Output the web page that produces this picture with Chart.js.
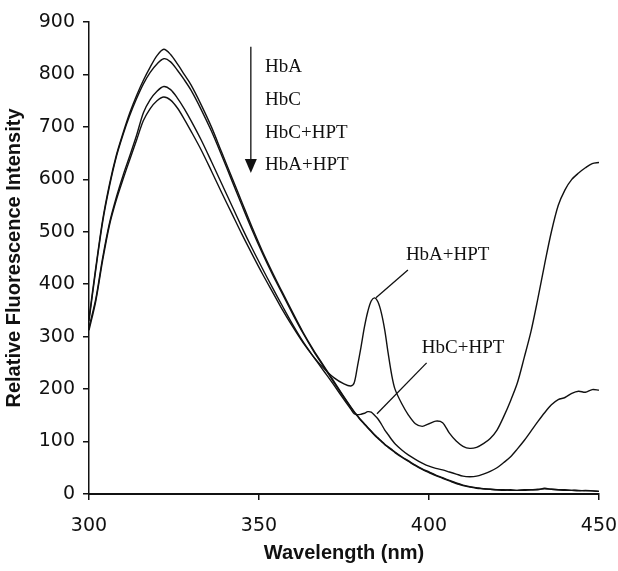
<!DOCTYPE html>
<html>
<head>
<meta charset="utf-8">
<script src="https://cdn.jsdelivr.net/npm/chart.js@4.4.1/dist/chart.umd.min.js"></script>
<style>
  html, body { margin: 0; padding: 0; background: #fff; }
  #wrap { width: 618px; height: 571px; }
</style>
</head>
<body>
<div id="wrap"><canvas id="chart" width="618" height="571"></canvas></div>
<script>
// wavelength grid (nm), denser around the HPT peaks
const wavelengths = [
  300, 302, 304, 306, 308, 310, 312, 314, 316, 318, 320, 322, 324, 326, 328, 330,
  333, 336, 339, 342, 345, 348, 351, 354, 357, 360, 363, 366, 369, 372, 375,
  377, 378, 379, 380, 381, 382, 383, 384, 385, 386, 387, 388, 389, 390,
  392, 394, 396, 398, 400, 402, 404, 406, 408, 410, 412, 414, 416, 418, 420,
  422, 424, 426, 428, 430, 432, 434, 436, 438, 440, 442, 444, 446, 448, 450
];

const hbA = [
  335, 432, 522, 590, 645, 688, 727, 760, 789, 814, 836, 848, 838, 820, 800, 780,
  742, 700, 652, 604, 556, 508, 463, 422, 383, 345, 308, 275, 245, 215, 185,
  166, 157, 149, 141, 134, 127, 120, 113, 107, 101, 95, 90, 85, 80,
  71, 63, 55, 48, 42, 36, 31, 26, 21, 17, 14, 12, 10, 9, 8,
  8, 7, 7, 8, 8, 9, 10, 9, 8, 7, 7, 7, 6, 6, 5
];

const hbC = [
  330, 428, 518, 586, 642, 685, 722, 754, 782, 804, 820, 830, 824, 808, 790, 770,
  733, 692, 646, 598, 550, 503, 459, 418, 380, 342, 306, 273, 243, 213, 184,
  165, 156, 148, 140, 133, 126, 119, 112, 106, 100, 94, 89, 84, 79,
  70, 62, 54, 47, 41, 35, 30, 25, 20, 16, 13, 11, 10, 9, 8,
  7, 8, 7, 7, 8, 8, 11, 9, 8, 8, 7, 6, 7, 6, 5
];

const hbCHpt = [
  318, 372, 450, 516, 565, 607, 645, 684, 727, 752, 768, 777, 771, 755, 735, 712,
  675, 634, 592, 550, 508, 468, 430, 393, 357, 322, 290, 262, 235, 208, 180,
  162, 153, 151, 152, 154, 157, 156, 150, 143, 133, 122, 113, 104, 96,
  84, 74, 66, 59, 53, 49, 46, 42, 38, 34, 33, 34, 38, 43, 50,
  60, 71, 86, 102, 120, 138, 155, 170, 180, 184, 192, 196, 194, 199, 198
];

const hbAHpt = [
  312, 368, 445, 512, 560, 600, 638, 675, 712, 735, 750, 757, 751, 736, 715, 692,
  656, 616, 575, 535, 495, 457, 420, 385, 350, 318, 288, 262, 240, 222, 210,
  206, 212, 245, 280, 318, 348, 368, 374, 366, 345, 312, 268, 228, 200,
  172, 150, 134, 129, 134, 139, 136, 116, 101, 91, 87, 89, 96, 106, 122,
  148, 178, 212, 260, 310, 372, 438, 500, 550, 580, 600, 612, 622, 630, 632
];

const seriesNames = ['HbA', 'HbC', 'HbC+HPT', 'HbA+HPT'];
const seriesValues = [hbA, hbC, hbCHpt, hbAHpt];

// annotation placement in data units (wavelength, intensity)
const notes = {
  arrow: { x: 347.6, top: 853, tip: 612 },
  list: { x: 351.8, baselines: [804, 742, 679, 618] },
  peakA: { text: 'HbA+HPT', x: 393.2, y: 446, from: [393.8, 427], to: [384.4, 374] },
  peakC: { text: 'HbC+HPT', x: 397.9, y: 269, from: [399.3, 250], to: [384.7, 153] }
};

const annotate = {
  id: 'annotate',
  afterDatasetsDraw(chart) {
    const { ctx, scales: { x, y } } = chart;
    const px = v => x.getPixelForValue(v);
    const py = v => y.getPixelForValue(v);
    ctx.save();
    ctx.strokeStyle = '#111';
    ctx.fillStyle = '#111';
    ctx.lineWidth = 1.3;

    // downward arrow next to the list
    const ax = px(notes.arrow.x);
    const tipY = py(notes.arrow.tip);
    ctx.beginPath();
    ctx.moveTo(ax, py(notes.arrow.top));
    ctx.lineTo(ax, tipY - 12);
    ctx.stroke();
    ctx.beginPath();
    ctx.moveTo(ax - 6, tipY - 14);
    ctx.lineTo(ax + 6, tipY - 14);
    ctx.lineTo(ax, tipY);
    ctx.closePath();
    ctx.fill();

    ctx.font = '19px "Liberation Serif", "Times New Roman", serif';
    ctx.textAlign = 'left';
    ctx.textBaseline = 'alphabetic';
    seriesNames.forEach((name, i) => {
      ctx.fillText(name, px(notes.list.x), py(notes.list.baselines[i]));
    });

    [notes.peakA, notes.peakC].forEach(n => {
      ctx.fillText(n.text, px(n.x), py(n.y));
      ctx.beginPath();
      ctx.moveTo(px(n.from[0]), py(n.from[1]));
      ctx.lineTo(px(n.to[0]), py(n.to[1]));
      ctx.stroke();
    });
    ctx.restore();
  }
};

const ctx = document.getElementById('chart').getContext('2d');
new Chart(ctx, {
  type: 'line',
  data: {
    datasets: seriesValues.map((vals, i) => ({
      label: seriesNames[i],
      data: vals.map((v, j) => ({ x: wavelengths[j], y: v })),
      borderColor: '#111',
      borderWidth: 1.4,
      pointRadius: 0,
      tension: 0.3,
      fill: false
    }))
  },
  options: {
    responsive: false,
    animation: false,
    layout: { padding: { left: 0, right: 19, top: 22, bottom: 0 } },
    plugins: {
      legend: { display: false },
      tooltip: { enabled: false }
    },
    scales: {
      x: {
        type: 'linear',
        min: 300,
        max: 450,
        afterFit: s => { s.height = 77; s.paddingLeft = 0; s.paddingRight = 0; },
        ticks: {
          stepSize: 50,
          color: '#111',
          padding: 15,
          font: { family: '"DejaVu Sans", Arial, sans-serif', size: 19 }
        },
        grid: { drawOnChartArea: false, drawTicks: true, tickLength: 6, color: '#111', lineWidth: 1.5 },
        border: { color: '#111', width: 2 },
        title: {
          display: true,
          text: 'Wavelength (nm)',
          color: '#111',
          padding: { top: 6, bottom: 6 },
          font: { family: '"Liberation Sans", Arial, sans-serif', size: 20, weight: 'bold' }
        }
      },
      y: {
        min: 0,
        max: 900,
        afterFit: s => { s.width = 89; s.paddingTop = 0; s.paddingBottom = 0; },
        ticks: {
          stepSize: 100,
          color: '#111',
          padding: 8,
          font: { family: '"DejaVu Sans", Arial, sans-serif', size: 19 }
        },
        grid: { drawOnChartArea: false, drawTicks: true, tickLength: 6, color: '#111', lineWidth: 1.5 },
        border: { color: '#111', width: 1.5 },
        title: {
          display: true,
          text: 'Relative Fluorescence Intensity',
          color: '#111',
          padding: { top: 2, bottom: 0 },
          font: { family: '"Liberation Sans", Arial, sans-serif', size: 20, weight: 'bold' }
        }
      }
    }
  },
  plugins: [annotate]
});
</script>
</body>
</html>
